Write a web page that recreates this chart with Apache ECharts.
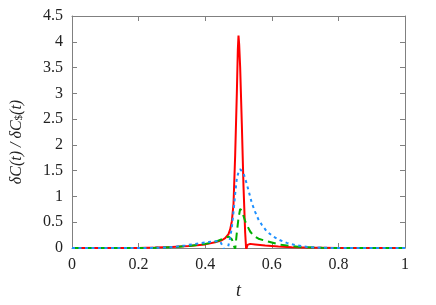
<!DOCTYPE html>
<html><head><meta charset="utf-8">
<script src="https://cdn.jsdelivr.net/npm/echarts@6/dist/echarts.min.js"></script>
<style>html,body{margin:0;padding:0;background:#fff}#c{width:436px;height:305px}</style>
</head><body><div id="c"></div>
<script>
const xTicks = [0, 0.2, 0.4, 0.6, 0.8, 1];
const yTicks = [0, 0.5, 1, 1.5, 2, 2.5, 3, 3.5, 4, 4.5];

const tRed = [0, 0.2, 0.25, 0.3, 0.35, 0.4, 0.43, 0.45, 0.46, 0.47, 0.475, 0.48, 0.485, 0.49, 0.495, 0.498, 0.5, 0.502, 0.505, 0.51, 0.515, 0.52, 0.523, 0.527, 0.535, 0.55, 0.58, 0.62, 0.66, 0.7, 0.8, 1];
const vRed = [0, 0.002, 0.008, 0.02, 0.04, 0.07, 0.11, 0.15, 0.19, 0.27, 0.36, 0.52, 0.85, 1.8, 3.0, 3.85, 4.12, 3.95, 3.5, 2.4, 1.2, 0.3, -0.03, 0.06, 0.08, 0.07, 0.05, 0.03, 0.015, 0.008, 0.001, 0];

const tBlue = [0, 0.2, 0.25, 0.28, 0.31, 0.34, 0.37, 0.4, 0.43, 0.445, 0.45, 0.455, 0.46, 0.468, 0.475, 0.48, 0.485, 0.49, 0.495, 0.5, 0.505, 0.51, 0.515, 0.52, 0.53, 0.54, 0.55, 0.56, 0.57, 0.585, 0.605, 0.625, 0.645, 0.675, 0.715, 0.75, 0.8, 1];
const vBlue = [0, 0, 0.003, 0.01, 0.025, 0.05, 0.08, 0.11, 0.13, 0.13, 0.1, 0.0, -0.1, 0.0, 0.2, 0.4, 0.7, 1.05, 1.35, 1.47, 1.53, 1.5, 1.45, 1.35, 1.12, 0.87, 0.7, 0.55, 0.45, 0.32, 0.22, 0.15, 0.1, 0.05, 0.015, 0.004, 0, 0];

const tGreen = [0, 0.2, 0.25, 0.3, 0.35, 0.4, 0.43, 0.45, 0.46, 0.47, 0.475, 0.48, 0.485, 0.49, 0.495, 0.5, 0.505, 0.51, 0.515, 0.52, 0.525, 0.535, 0.545, 0.56, 0.585, 0.625, 0.685, 0.75, 0.8, 1];
const vGreen = [0, 0, 0.003, 0.015, 0.04, 0.08, 0.12, 0.17, 0.2, 0.22, 0.22, 0.17, 0.07, -0.03, 0.3, 0.58, 0.76, 0.72, 0.62, 0.52, 0.45, 0.32, 0.24, 0.18, 0.13, 0.065, 0.02, 0.003, 0, 0];

const pairs = (t, v) => t.map((x, i) => [x, v[i]]);
const serif = 'Liberation Serif';
const axisGrey = '#808080';
const textCol = '#222';

const xBase = {
  type: 'value', min: 0, max: 1, interval: 0.2,
  axisLine: { show: true, onZero: false, lineStyle: { color: axisGrey, width: 1 } },
  axisTick: { show: true, inside: true, length: 5, lineStyle: { color: axisGrey } },
  splitLine: { show: false }
};
const yBase = {
  type: 'value', min: 0, max: 4.5, interval: 0.5,
  axisLine: { show: true, onZero: false, lineStyle: { color: axisGrey, width: 1 } },
  axisTick: { show: true, inside: true, length: 5, lineStyle: { color: axisGrey } },
  splitLine: { show: false }
};

const chart = echarts.init(document.getElementById('c'), null, { renderer: 'canvas' });
chart.setOption({
  animation: false,
  backgroundColor: '#fff',
  grid: { left: 72, right: 31, top: 16, bottom: 55 },
  xAxis: [
    Object.assign({}, xBase, {
      position: 'bottom',
      name: 't', nameLocation: 'middle', nameGap: 34,
      nameTextStyle: { fontFamily: serif, fontStyle: 'italic', fontSize: 18, color: textCol },
      axisLabel: { margin: 9, fontFamily: serif, fontSize: 16, color: textCol,
        formatter: v => xTicks.includes(Math.round(v * 10) / 10) ? String(Math.round(v * 10) / 10) : '' }
    }),
    Object.assign({}, xBase, { position: 'top', axisLabel: { show: false } })
  ],
  yAxis: [
    Object.assign({}, yBase, {
      position: 'left',
      name: '{m|δC(t) / δC}{s|$}{m|(t)}', nameLocation: 'middle', nameGap: 47, nameRotate: 90,
      nameTextStyle: { padding: [0, 20, 0, 0], rich: {
        m: { fontFamily: serif, fontStyle: 'italic', fontSize: 16, color: textCol },
        s: { fontFamily: serif, fontSize: 11, color: textCol, padding: [6, 0, 0, 0] }
      } },
      axisLabel: { margin: 9, fontFamily: serif, fontSize: 16, color: textCol,
        formatter: v => yTicks.includes(v) ? String(v) : '' }
    }),
    Object.assign({}, yBase, { position: 'right', axisLabel: { show: false } })
  ],
  series: [
    { type: 'line', data: pairs(tRed, vRed), showSymbol: false, symbol: 'none', clip: true,
      lineStyle: { color: '#ff0000', width: 2 }, z: 2 },
    { type: 'line', data: pairs(tGreen, vGreen), showSymbol: false, symbol: 'none', clip: true,
      lineStyle: { color: '#00b000', width: 2, type: [8, 5] }, z: 3 },
    { type: 'line', data: pairs(tBlue, vBlue), showSymbol: false, symbol: 'none', clip: true,
      lineStyle: { color: '#1e90ff', width: 2, type: [3, 3.5] }, z: 4 }
  ]
});
</script></body></html>
